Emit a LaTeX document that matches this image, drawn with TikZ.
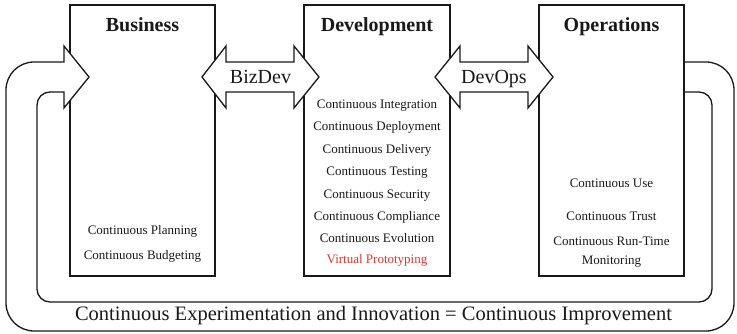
\documentclass[tikz,border=0pt]{standalone}
\usepackage{fontspec}
\setmainfont{Liberation Serif}
\definecolor{ink}{RGB}{25,25,25}
\definecolor{vred}{RGB}{228,52,48}
\begin{document}
\begin{tikzpicture}[x=1pt,y=1pt,
  box/.style={draw=ink,line width=1.3pt,fill=white,minimum height=271pt,inner sep=0pt},
  shape line/.style={draw=ink,line width=1.3pt,line join=miter},
  title/.style={font=\fontsize{20}{22}\selectfont\bfseries,text=ink,anchor=base,inner sep=0pt},
  item/.style={font=\fontsize{13}{15}\selectfont,text=ink,anchor=base,inner sep=0pt},
  big/.style={font=\fontsize{20.5}{23}\selectfont,text=ink,anchor=base,inner sep=0pt}]
\useasboundingbox (0,0) rectangle (737,334);
% boxes
\node[box,minimum width=145pt] (biz) at (142.5,193.5) {};
\node[box,minimum width=146pt] (dev) at (377,193.5) {};
\node[box,minimum width=145pt] (ops) at (611.5,193.5) {};
% titles
\node[title] (biztitle) at (142.5,302) {Business};
\node[title] (devtitle) at (377,302) {Development};
\node[title] (opstitle) at (611.5,302) {Operations};
% business items
\node[item] (b1) at (142.5,99.5) {Continuous Planning};
\node[item] (b2) at (142.5,74.5) {Continuous Budgeting};
% development items
\node[item] (d1) at (377,225.5) {Continuous Integration};
\node[item] (d2) at (377,203.1) {Continuous Deployment};
\node[item] (d3) at (377,180.7) {Continuous Delivery};
\node[item] (d4) at (377,158.3) {Continuous Testing};
\node[item] (d5) at (377,135.9) {Continuous Security};
\node[item] (d6) at (377,113.5) {Continuous Compliance};
\node[item] (d7) at (377,91.1) {Continuous Evolution};
\node[item,text=vred] (d8) at (377,70.5) {Virtual Prototyping};
% operations items
\node[item] (o1) at (611.5,146.5) {Continuous Use};
\node[item] (o2) at (611.5,113.5) {Continuous Trust};
\node[item] (o3) at (611.5,88.5) {Continuous Run-Time};
\node[item] (o4) at (611.5,69.5) {Monitoring};
% double arrows
\path[shape line,fill=white] (202,257) -- (226,288) -- (226,272) -- (294,272) -- (294,288)
  -- (319,257) -- (294,226) -- (294,242) -- (226,242) -- (226,226) -- cycle;
\node[big,font=\fontsize{20}{22}\selectfont] (bizdev) at (260.5,250) {BizDev};
\path[shape line,fill=white] (435,257) -- (460,288) -- (460,272) -- (528,272) -- (528,288)
  -- (553,257) -- (528,226) -- (528,242) -- (460,242) -- (460,226) -- cycle;
\node[big,font=\fontsize{20}{22}\selectfont] (devops) at (494,250) {DevOps};
% feedback loop
\fill[white] (60,272) -- (64,272) -- (64,288) -- (89,257) -- (64,226) -- (64,242) -- (60,242) -- cycle;
\path[shape line] (684,272) -- (706,272) arc[start angle=90,end angle=0,radius=28]
  -- (734,31) arc[start angle=0,end angle=-90,radius=28]
  -- (34,3) arc[start angle=-90,end angle=-180,radius=28]
  -- (6,244) arc[start angle=180,end angle=90,radius=28]
  -- (64,272) -- (64,288) -- (89,257) -- (64,226) -- (64,242)
  -- (50,242) arc[start angle=90,end angle=180,radius=13]
  -- (37,45) arc[start angle=180,end angle=270,radius=13]
  -- (699,32) arc[start angle=270,end angle=360,radius=13]
  -- (712,229) arc[start angle=0,end angle=90,radius=13]
  -- (684,242);
\node[big] (improve) at (373.5,13) {Continuous Experimentation and Innovation = Continuous Improvement};
\end{tikzpicture}
\end{document}
